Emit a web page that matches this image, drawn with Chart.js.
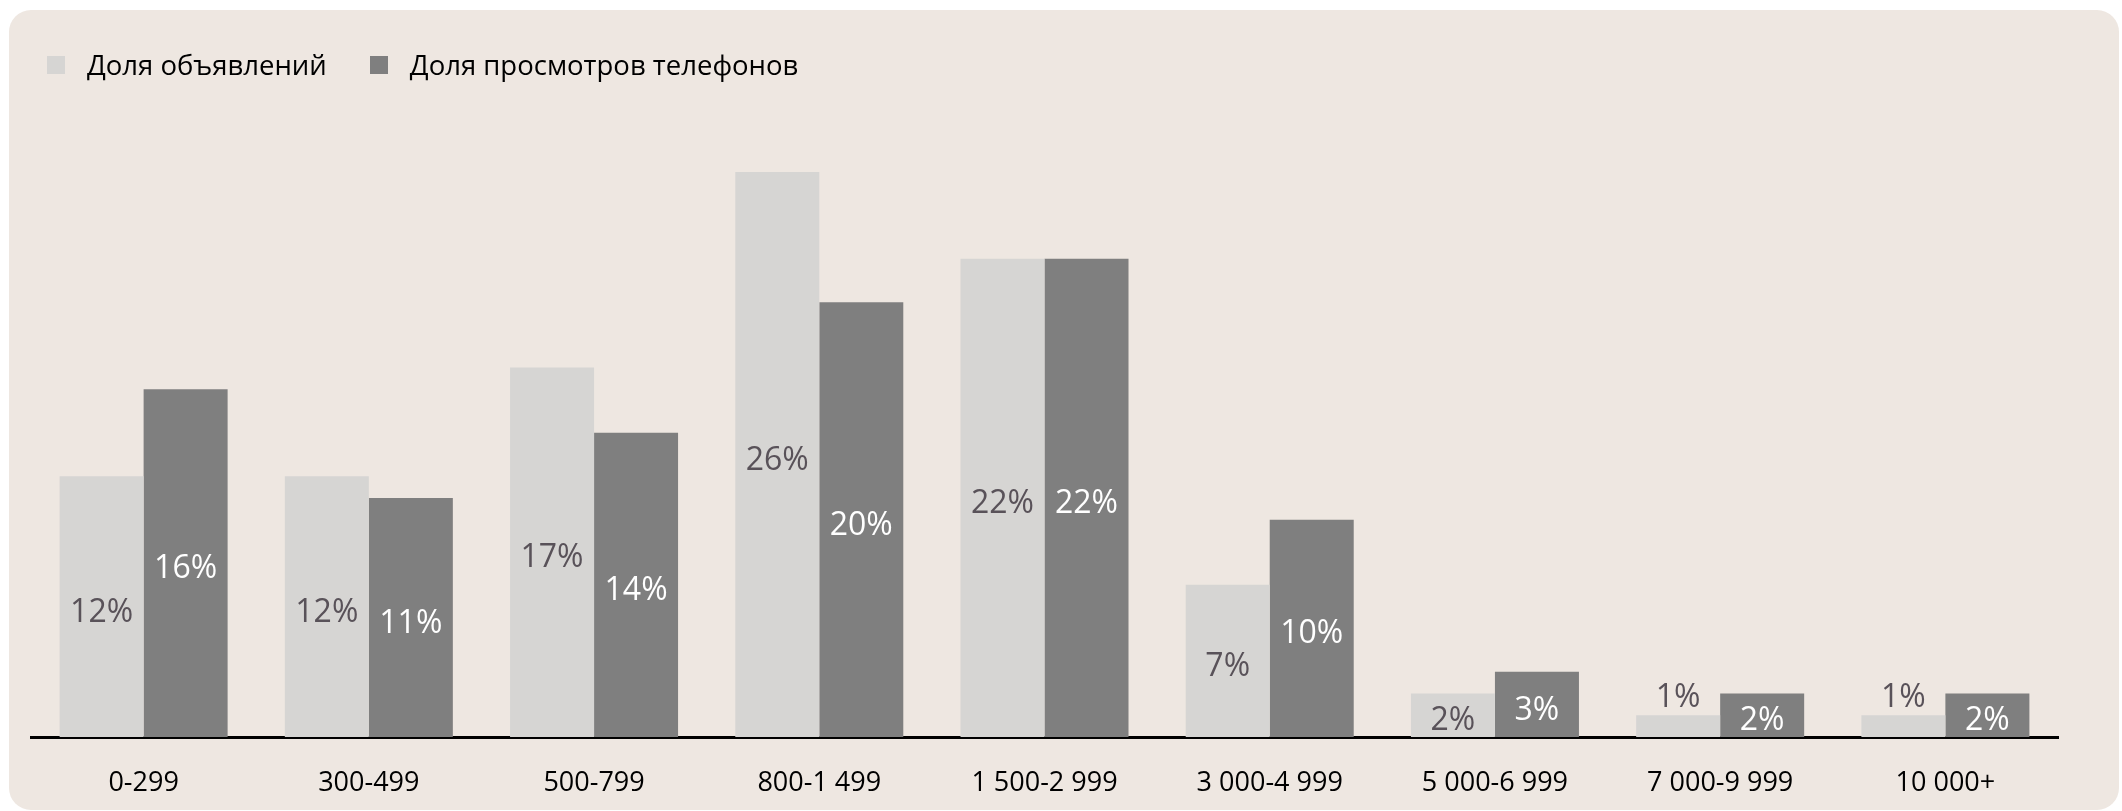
<!DOCTYPE html>
<html>
<head>
<meta charset="utf-8">
<script src="https://cdn.jsdelivr.net/npm/chart.js@4.4.1/dist/chart.umd.min.js"></script>
<style>
    html, body { margin: 0; padding: 0; background: #ffffff; }
    body { width: 2122px; height: 811px; position: relative; overflow: hidden; font-family: "Open Sans", sans-serif; }
    .card { position: absolute; left: 9px; top: 10px; width: 2110px; height: 800px; background: #EEE7E1; border-radius: 22px; }
    #chart { position: absolute; left: 0; top: 0; }
    #legend { position: absolute; left: 47px; top: 51px; display: flex; align-items: flex-start; }
    .legend-item { display: flex; align-items: flex-start; margin-right: 43px; }
    .legend-box { width: 18px; height: 18px; margin-top: 5px; margin-right: 22px; }
    .legend-text { font-size: 27.5px; line-height: 28px; color: #000; white-space: nowrap; }
</style>
</head>
<body>
<div class="card"></div>
<canvas id="chart" width="2122" height="811"></canvas>
<div id="legend"></div>

<script>
// Price ranges (categories)
const categories = ['0-299', '300-499', '500-799', '800-1 499', '1 500-2 999', '3 000-4 999', '5 000-6 999', '7 000-9 999', '10 000+'];

// Share of listings, %
const listingShare = [12, 12, 17, 26, 22, 7, 2, 1, 1];
// Share of phone views, %
const phoneViewShare = [16, 11, 14, 20, 22, 10, 3, 2, 2];

const seriesNames = ['Доля объявлений', 'Доля просмотров телефонов'];

// value labels inside / above the bars
const barValueLabels = {
    id: 'barValueLabels',
    afterDatasetsDraw(chart) {
        const ctx = chart.ctx;
        ctx.save();
        ctx.font = '32px "Open Sans"';
        ctx.textAlign = 'center';
        ctx.textBaseline = 'middle';
        chart.data.datasets.forEach((ds, i) => {
            const meta = chart.getDatasetMeta(i);
            ctx.fillStyle = ds.labelColor;
            meta.data.forEach((bar, j) => {
                const h = bar.base - bar.y;
                // too short for the text: put it just above the bar
                const y = h < 30 ? bar.y - 17 : (bar.y + bar.base) / 2 + 6;
                ctx.fillText(ds.data[j] + '%', bar.x, y);
            });
        });
        ctx.restore();
    }
};

const chart = new Chart(document.getElementById('chart').getContext('2d'), {
    type: 'bar',
    data: {
        labels: categories,
        datasets: [
            {
                label: seriesNames[0],
                data: listingShare,
                backgroundColor: '#D6D5D3',
                labelColor: '#595259',
                categoryPercentage: 0.746,
                barPercentage: 1.0
            },
            {
                label: seriesNames[1],
                data: phoneViewShare,
                backgroundColor: '#7F7F7F',
                labelColor: '#FFFFFF',
                categoryPercentage: 0.746,
                barPercentage: 1.0
            }
        ]
    },
    options: {
        responsive: false,
        animation: false,
        layout: {
            padding: { top: 85, left: 31, right: 64, bottom: 0 }
        },
        plugins: {
            legend: { display: false },
            tooltip: { enabled: false }
        },
        scales: {
            x: {
                z: 1,
                grid: { display: false, drawTicks: false },
                border: { display: true, color: '#000000', width: 3 },
                ticks: {
                    color: '#000000',
                    font: { family: 'Open Sans', size: 27 },
                    padding: 30,
                    maxRotation: 0,
                    autoSkip: false
                },
                afterFit(scale) { scale.height = 74; }
            },
            y: {
                display: false,
                min: 0,
                max: 30
            }
        }
    },
    plugins: [barValueLabels]
});

// legend built from the datasets
const legendEl = document.getElementById('legend');
chart.data.datasets.forEach(ds => {
    const item = document.createElement('div');
    item.className = 'legend-item';
    item.innerHTML = `<span class="legend-box" style="background:${ds.backgroundColor}"></span><span class="legend-text">${ds.label}</span>`;
    legendEl.appendChild(item);
});
</script>
</body>
</html>
